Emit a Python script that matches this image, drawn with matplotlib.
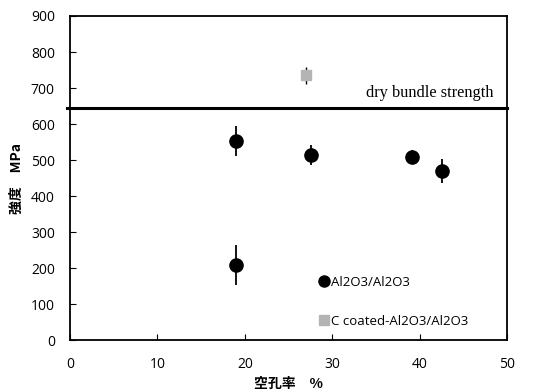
import numpy as np
import matplotlib.pyplot as plt

# Al2O3/Al2O3
porosity = [19.0, 19.0, 27.6, 39.1, 42.6]
strength = [553, 208, 514, 509, 470]
err = [42, 55, 27, 20, 34]

# C coated-Al2O3/Al2O3
porosity_c = [27.0]
strength_c = [735]
err_c = [24]

dry_bundle = 645

plt.rcParams['font.family'] = ['Open Sans', 'DejaVu Sans']

fig = plt.figure(figsize=(5.43, 3.9), dpi=100)
ax = fig.add_axes([0.129, 0.128, 0.805, 0.831])

ax.errorbar(porosity, strength, yerr=err, fmt='o', color='black',
            markersize=9.5, elinewidth=1.3, capsize=0, label='Al2O3/Al2O3', zorder=3)
ax.errorbar(porosity_c, strength_c, yerr=err_c, fmt='s', color='#b4b4b4',
            ecolor='black', markersize=7.5, elinewidth=1.0, capsize=0,
            label='C coated-Al2O3/Al2O3', zorder=3)

ax.axhline(dry_bundle, xmin=-0.008, xmax=1.0, color='black', lw=2.2, clip_on=False)
ax.text(48.4, 685, 'dry bundle strength', ha='right', va='center',
        fontsize=11.8, family='Liberation Serif')

ax.set_xlim(0, 50)
ax.set_ylim(0, 900)
ax.set_xticks(np.arange(0, 51, 10))
ax.set_yticks(np.arange(0, 901, 100))
ax.tick_params(direction='in', length=4, labelsize=10)
ax.tick_params(axis='y', pad=11)
ax.tick_params(axis='x', pad=12)
for s in ax.spines.values():
    s.set_linewidth(1.3)

ax.set_xlabel('空孔率　%', fontsize=10, fontweight='bold',
              family=['Noto Sans CJK JP', 'DejaVu Sans'], labelpad=4)
ax.set_ylabel('強度　MPa', fontsize=10, fontweight='bold',
              family=['Noto Sans CJK JP', 'DejaVu Sans'], labelpad=5)

handles, labels = ax.get_legend_handles_labels()
handles = [h[0] for h in handles]
leg = ax.legend(handles, labels, loc='lower left', bbox_to_anchor=(0.545, 0.005),
                frameon=False, fontsize=9.5, handletextpad=0.15, handlelength=0.8,
                labelspacing=2.0, borderpad=0.3)
leg.legend_handles[0].set_markersize(8)
leg.legend_handles[1].set_markersize(7.5)

fig.savefig('out.png', dpi=100)
